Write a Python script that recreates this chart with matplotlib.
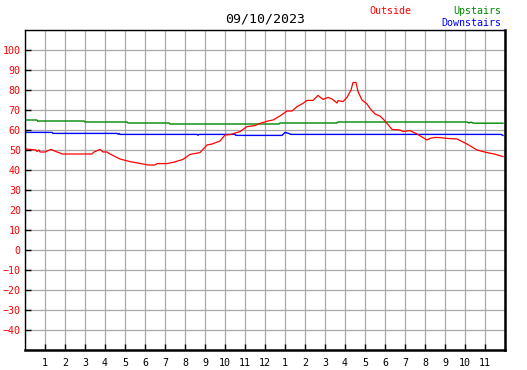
import numpy as np
from matplotlib import pyplot as plt

# hours since midnight, temperatures
out_t = [0.05, 0.55, 0.6, 0.7, 0.75, 1.0, 1.3, 1.6, 1.75, 1.85, 3.35, 3.45, 3.75, 3.9, 4.1,
         4.25, 4.75, 5.25, 5.75, 6.15, 6.5, 6.6, 7.1, 7.4, 7.9, 8.25, 8.75, 9.1, 9.35, 9.75,
         10.0, 10.25, 10.75, 11.1, 11.5, 11.75, 12.15, 12.4, 12.75, 13.1, 13.35, 13.6, 13.9,
         14.1, 14.4, 14.65, 14.9, 15.15, 15.35, 15.6, 15.65, 15.9, 16.1, 16.3, 16.4, 16.55,
         16.65, 16.85, 17.1, 17.25, 17.5, 17.75, 18.0, 18.35, 18.75, 18.9, 19.25, 19.6, 19.9,
         20.1, 20.25, 20.5, 20.75, 21.1, 21.6, 22.1, 22.6, 23.1, 23.5, 23.9]
outside = [50.5, 50.0, 49.2, 50.0, 49.0, 49.0, 50.3, 49.0, 48.5, 48.0, 48.0, 49.0, 50.3, 49.0, 49.0,
           48.0, 45.5, 44.2, 43.3, 42.5, 42.5, 43.2, 43.2, 43.8, 45.3, 47.8, 48.7, 52.5, 53.0, 54.5,
           57.5, 57.7, 59.2, 61.7, 62.2, 63.3, 64.5, 65.0, 67.0, 69.5, 69.5, 71.7, 73.3,
           74.8, 74.8, 77.3, 75.3, 76.3, 75.5, 73.5, 74.7, 74.2, 76.3, 80.0, 83.7, 83.8,
           79.2, 75.0, 73.0, 70.8, 68.0, 67.0, 64.5, 60.3, 60.0, 59.2, 59.7, 58.0, 56.2,
           55.0, 55.8, 56.3, 56.2, 55.8, 55.5, 53.0, 50.0, 48.7, 47.9, 46.7]

up_t = [0.0, 0.6, 0.65, 0.7, 2.95, 3.0, 5.1, 5.15, 7.2, 7.25, 12.7, 12.75, 15.6, 15.65,
        22.1, 22.2, 22.3, 22.4, 22.5, 23.9]
upstairs = [65.0, 65.0, 64.3, 64.5, 64.5, 64.0, 64.0, 63.5, 63.5, 63.0, 63.0, 63.5, 63.5, 64.0,
            64.0, 63.5, 63.9, 63.5, 63.4, 63.4]

down_t = [0.0, 1.35, 1.4, 4.6, 4.65, 4.7, 4.75, 8.6, 8.65, 8.7, 10.5, 10.55, 12.85, 13.0,
          13.15, 13.3, 23.8, 23.9]
downstairs = [58.8, 58.8, 58.3, 58.3, 57.9, 58.3, 57.8, 57.8, 57.4, 57.8, 57.8, 57.3, 57.3, 58.8,
              58.4, 57.8, 57.8, 57.3]

hour_ticks = list(range(1, 24))
hour_labels = [str(h if h <= 12 else h - 12) for h in hour_ticks]
temp_ticks = list(range(-40, 101, 10))

plt.rcParams['font.family'] = 'DejaVu Sans Mono'
plt.rcParams['font.size'] = 7.2

fig = plt.figure(figsize=(5.27, 3.70), dpi=100)
ax = fig.add_axes([25/527, 1 - 350/370, 480/527, 320/370])

grid_c = '#a8a8a8'
ax.plot(up_t, upstairs, color='#008800', lw=1.0)
ax.plot(down_t, downstairs, color='#0000ff', lw=1.0)
ax.plot(out_t, outside, color='#ff0000', lw=0.9)

ax.set_xlim(0, 24)
ax.set_ylim(-50, 110)
ax.set_xticks(hour_ticks)
ax.set_xticklabels(hour_labels)
ax.set_xticks(np.arange(0, 25, 1), minor=True)
ax.set_yticks(temp_ticks)
ax.set_yticks(np.arange(-50, 111, 10), minor=True)
ax.grid(True, which='both', color=grid_c, lw=0.9)
ax.set_axisbelow(True)
ax.tick_params(which='major', direction='in', length=4, width=1, color='black')
ax.tick_params(which='minor', length=0)
ax.tick_params(axis='y', colors='black', labelcolor='#ff0000', pad=3)
ax.tick_params(axis='x', pad=6)

for s in ['left', 'top']:
    ax.spines[s].set_linewidth(1)
for s in ['right', 'bottom']:
    ax.spines[s].set_linewidth(1.8)

fig.text(265/527, 1 - 19/370, '09/10/2023', ha='center', va='center', fontsize=9.5)
fig.text(369/527, 1 - 11/370, 'Outside', ha='left', va='center', color='#ff0000')
fig.text(501/527, 1 - 11/370, 'Upstairs', ha='right', va='center', color='#008800')
fig.text(501/527, 1 - 23/370, 'Downstairs', ha='right', va='center', color='#0000ff')

fig.savefig('out.png', dpi=100)
